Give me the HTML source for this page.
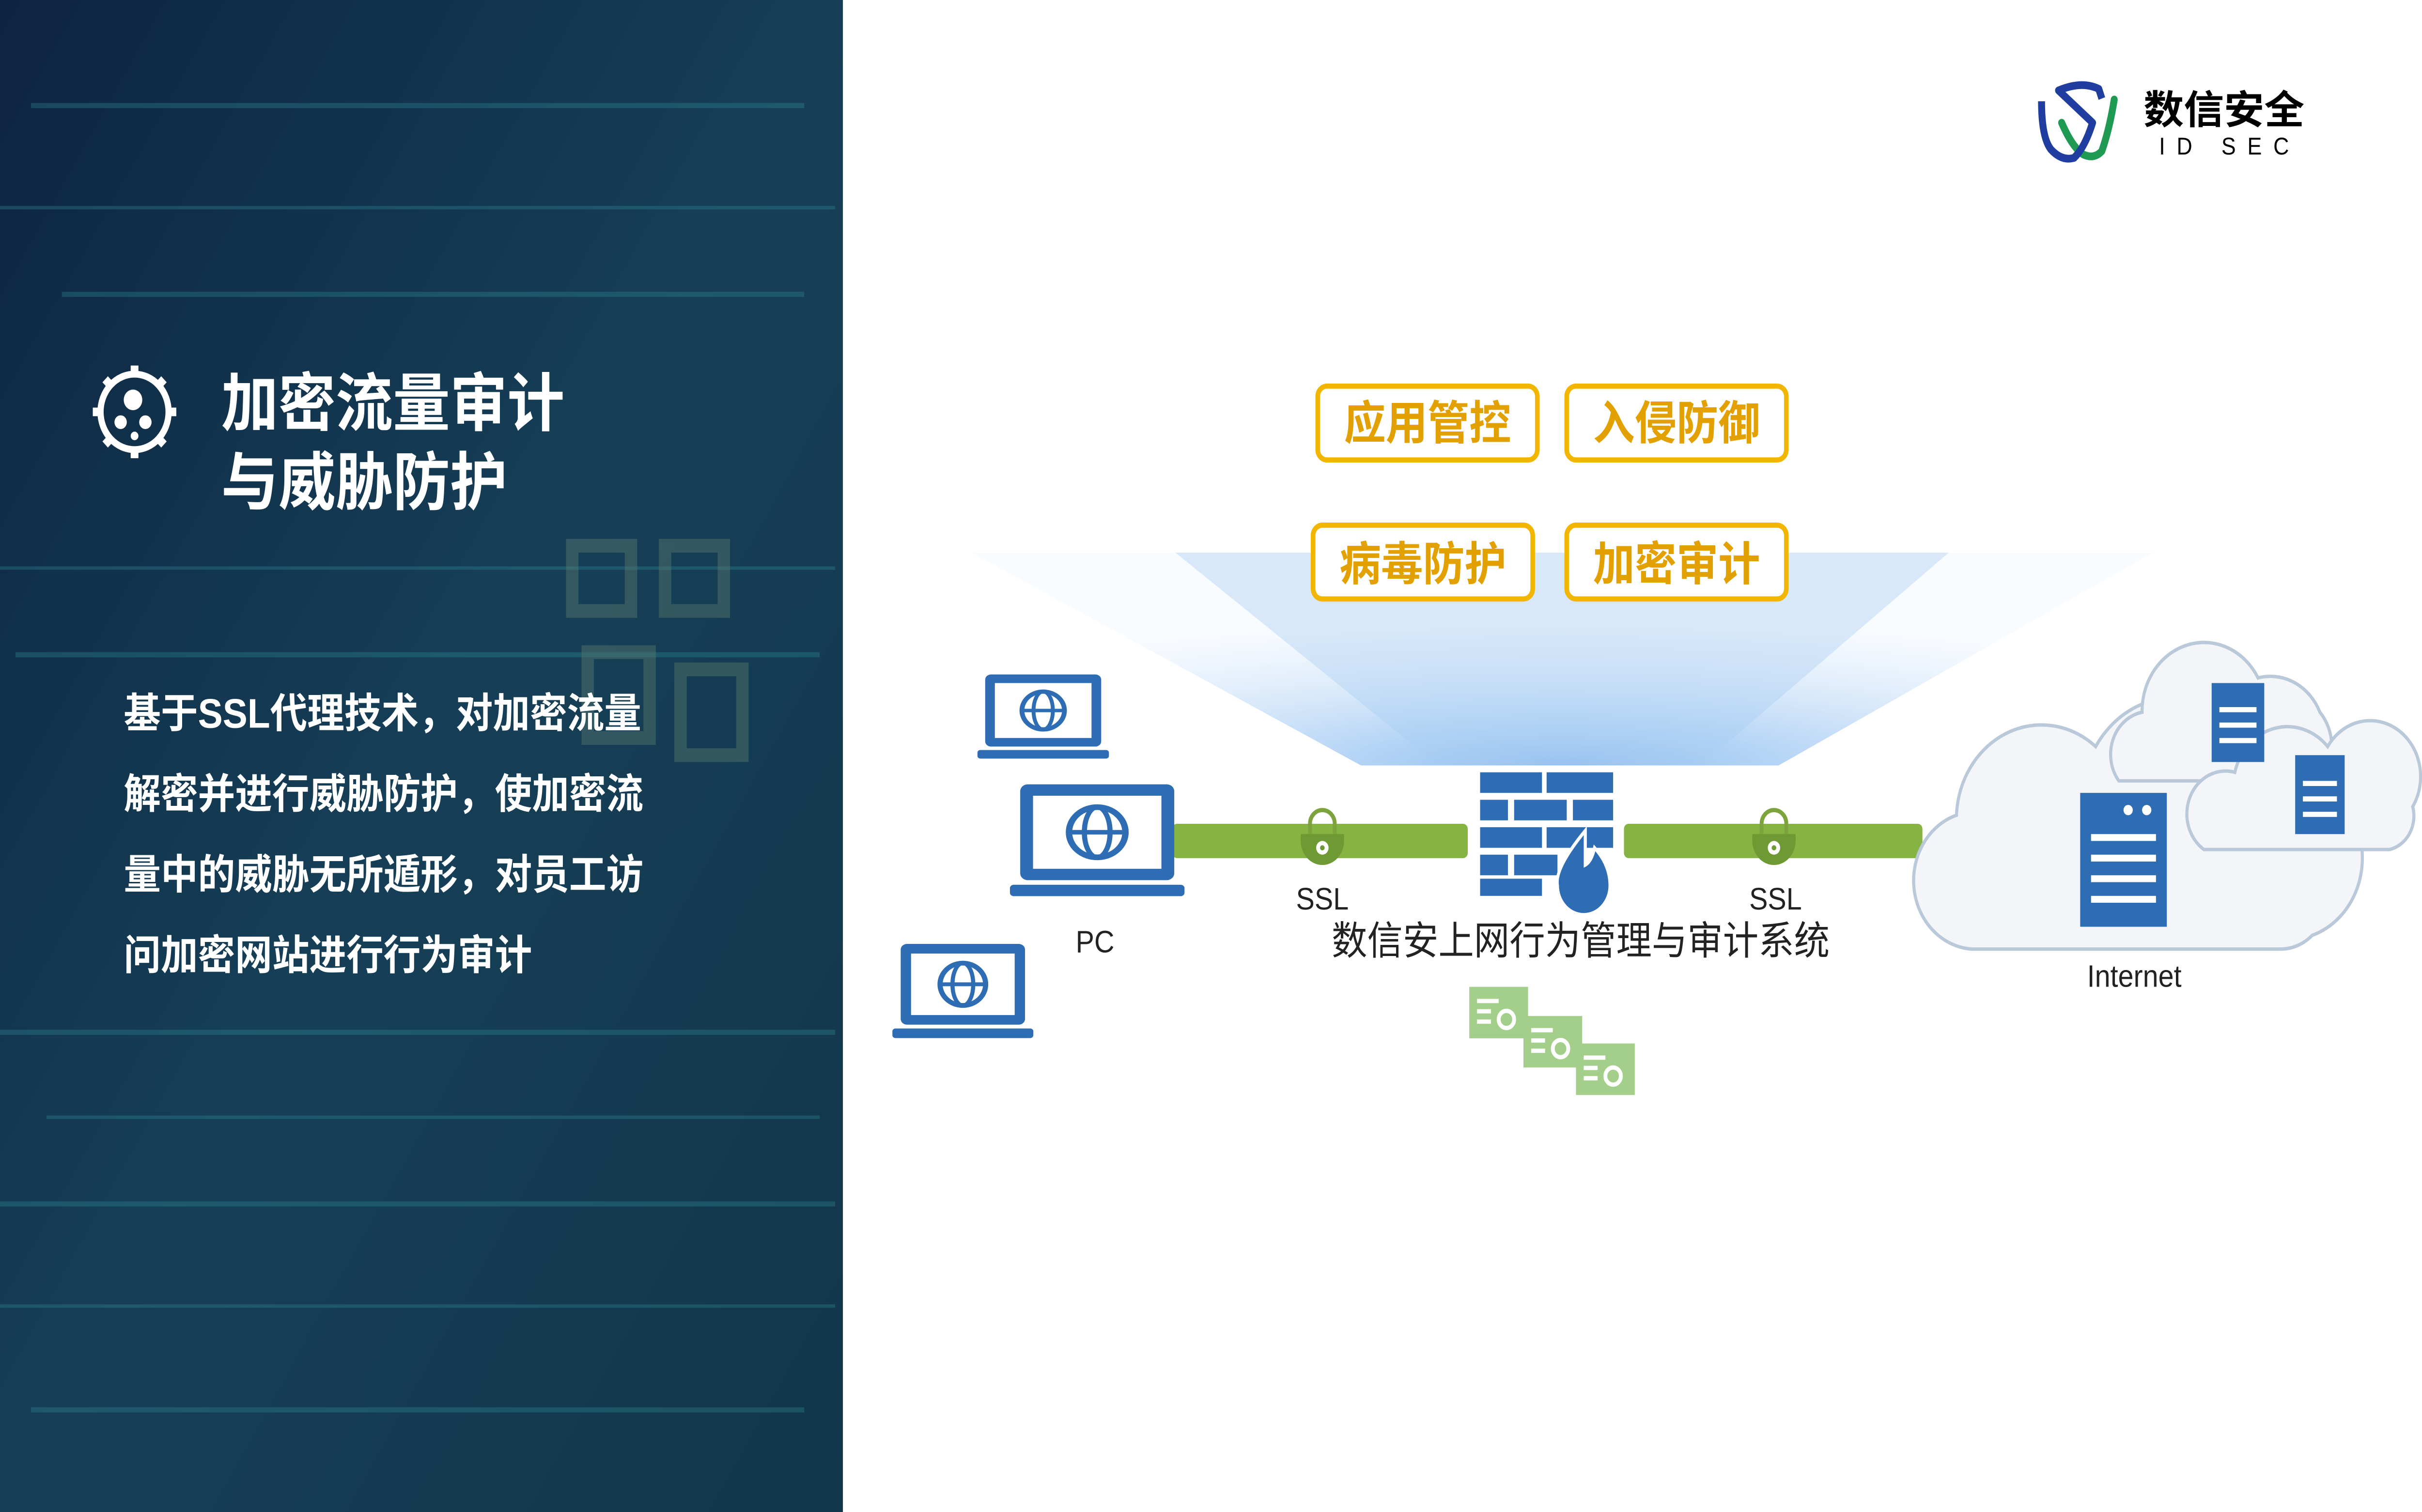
<!DOCTYPE html>
<html><head><meta charset="utf-8"><style>
html,body{margin:0;padding:0;width:100%;height:100%;overflow:hidden;background:#fff}
svg{display:block;width:100vw;height:100vh;position:absolute;left:0;top:0}
</style></head><body>
<svg viewBox="0 0 1566 881" preserveAspectRatio="none" xmlns="http://www.w3.org/2000/svg" font-family="'Liberation Sans','Noto Sans CJK SC',sans-serif">
<defs>
<linearGradient id="lp" x1="0" y1="0" x2="1" y2="1">
<stop offset="0" stop-color="#0d2440"/><stop offset="0.5" stop-color="#163f57"/><stop offset="1" stop-color="#12364a"/>
</linearGradient>
<radialGradient id="beam2" cx="0.5" cy="1" r="0.7">
<stop offset="0" stop-color="#8dbdf0"/><stop offset="1" stop-color="#eaf3fc" stop-opacity="0.3"/>
</radialGradient>
<g id="lap"><rect x="4" y="0" width="60" height="42" rx="3" fill="#2e6db4"/><rect x="9" y="5" width="50" height="32" fill="#fff"/><circle cx="34" cy="21" r="11" fill="none" stroke="#2e6db4" stroke-width="2.5"/><ellipse cx="34" cy="21" rx="5" ry="11" fill="none" stroke="#2e6db4" stroke-width="2"/><line x1="23" y1="21" x2="45" y2="21" stroke="#2e6db4" stroke-width="2"/><rect x="0" y="44" width="68" height="5" rx="1.5" fill="#2e6db4"/></g>
<g id="lock"><path d="M-8,-2 v-8 a8,8 0 0 1 16,0 v8" fill="none" stroke="#7da33c" stroke-width="2.5"/><path d="M-14,-4 h28 v4 a14,14 0 0 1 -28,0z" fill="#6e9a33"/><circle cx="0" cy="4" r="4" fill="#fff"/><circle cx="0" cy="4" r="1.5" fill="#6e9a33"/></g>
<g id="cert"><rect x="0" y="0" width="38" height="30" fill="#a3cf8a"/><rect x="5" y="7" width="14" height="2.5" fill="#fff"/><rect x="5" y="13" width="9" height="2.5" fill="#fff"/><rect x="5" y="19" width="9" height="2.5" fill="#fff"/><circle cx="24" cy="19" r="5" fill="none" stroke="#fff" stroke-width="2.5"/></g>
</defs>
<rect x="0" y="0" width="545" height="881" fill="url(#lp)"/>
<g fill="#2f8a94" opacity="0.35">
<rect x="20" y="60" width="500" height="3"/><rect x="0" y="120" width="540" height="2"/><rect x="40" y="170" width="480" height="3"/><rect x="0" y="330" width="540" height="2"/><rect x="10" y="380" width="520" height="3"/><rect x="0" y="600" width="540" height="3"/><rect x="30" y="650" width="500" height="2"/><rect x="0" y="700" width="540" height="3"/><rect x="0" y="760" width="540" height="2"/><rect x="20" y="820" width="500" height="3"/>
</g>
<g fill="none" stroke="#5a7a70" stroke-width="8" opacity="0.45"><rect x="370" y="318" width="38" height="38"/><rect x="430" y="318" width="38" height="38"/><rect x="380" y="380" width="40" height="50"/><rect x="440" y="390" width="40" height="50"/></g>
<g transform="translate(87,240)" fill="#fff">
<circle r="22" fill="none" stroke="#fff" stroke-width="4"/>
<g stroke="#fff" stroke-width="5"><line x1="0" y1="-27" x2="0" y2="-21"/><line x1="0" y1="27" x2="0" y2="21"/><line x1="-27" y1="0" x2="-21" y2="0"/><line x1="27" y1="0" x2="21" y2="0"/><line x1="-19" y1="-19" x2="-15" y2="-15"/><line x1="19" y1="19" x2="15" y2="15"/><line x1="-19" y1="19" x2="-15" y2="15"/><line x1="19" y1="-19" x2="15" y2="-15"/></g>
<circle cx="-1" cy="-7" r="6"/><circle cx="-9" cy="6" r="4"/><circle cx="7" cy="6" r="4"/><circle cx="0" cy="14" r="2.5"/>
</g>
<text x="143" y="248" font-size="37" font-weight="bold" fill="#fff">加密流量审计</text>
<text x="143" y="294" font-size="37" font-weight="bold" fill="#fff">与威胁防护</text>
<g font-size="24" font-weight="bold" fill="#fff">
<text x="80" y="424">基于SSL代理技术，对加密流量</text>
<text x="80" y="471">解密并进行威胁防护，使加密流</text>
<text x="80" y="518">量中的威胁无所遁形，对员工访</text>
<text x="80" y="565">问加密网站进行行为审计</text>
</g>
<path d="M1333,71.5 Q1340,86 1347,90 Q1354,93 1359,88 Q1364,75 1367,58" fill="none" stroke="#1e9a52" stroke-width="4.5" stroke-linecap="round"/>
<path d="M1320,59 Q1320,80 1326,87 Q1333,94 1341,92 Q1348,86 1353,71.5 L1331,52.7 Q1346,47 1357,51.8 L1359,57.4" fill="none" stroke="#1f3ea0" stroke-width="4.5" stroke-linejoin="round"/>
<text x="1386" y="72" font-size="23" font-weight="bold" fill="#000" textLength="104" lengthAdjust="spacingAndGlyphs">数信安全</text>
<text x="1396" y="90" font-size="14" fill="#000" textLength="84" lengthAdjust="spacing">ID SEC</text>
<polygon points="628,322 1392,322 1150,446 880,446" fill="url(#beam2)"/>
<polygon points="760,322 1260,322 1100,446 930,446" fill="#a8cdf3" opacity="0.4"/>
<g fill="#fff" stroke="#f2b600" stroke-width="3">
<rect x="852" y="225" width="142" height="43" rx="6"/><rect x="1013" y="225" width="142" height="43" rx="6"/>
<rect x="849" y="306" width="142" height="43" rx="6"/><rect x="1013" y="306" width="142" height="43" rx="6"/>
</g>
<g font-size="27" font-weight="bold" fill="#e2a100" text-anchor="middle">
<text x="923" y="256">应用管控</text><text x="1084" y="256">入侵防御</text>
<text x="920" y="338">病毒防护</text><text x="1084" y="338">加密审计</text>
</g>
<rect x="758" y="480" width="191" height="20" rx="3" fill="#86b443"/>
<rect x="1050" y="480" width="193" height="20" rx="3" fill="#86b443"/>
<use href="#lock" x="855" y="490"/><use href="#lock" x="1147" y="490"/>
<g font-size="18" fill="#222" text-anchor="middle"><text x="855" y="530">SSL</text><text x="1148" y="530">SSL</text></g>
<g fill="#2e6db4">
<rect x="957" y="450" width="40" height="12"/><rect x="1000" y="450" width="43" height="12"/>
<rect x="957" y="466" width="18" height="12"/><rect x="979" y="466" width="34" height="12"/><rect x="1017" y="466" width="26" height="12"/>
<rect x="957" y="482" width="40" height="12"/><rect x="1000" y="482" width="43" height="12"/>
<rect x="957" y="498" width="18" height="12"/><rect x="979" y="498" width="28" height="12"/>
<rect x="957" y="512" width="40" height="10"/>
<path d="M1025,484 q-20,22 -18,32 a17,17 0 0 0 34,0 q0,-12 -10,-22 q-2,8 -6,10z" stroke="#fff" stroke-width="2"/>
</g>
<text x="1022" y="556" font-size="23" fill="#222" text-anchor="middle">数信安上网行为管理与审计系统</text>
<use href="#cert" x="950" y="575"/><use href="#cert" x="985" y="592"/><use href="#cert" x="1019" y="608"/>
<use href="#lap" transform="translate(632,393) scale(1.25,1.0)"/>
<use href="#lap" transform="translate(653,457) scale(1.66,1.33)"/>
<use href="#lap" transform="translate(577,550) scale(1.34,1.12)"/>
<text x="708" y="555" font-size="18" fill="#222" text-anchor="middle">PC</text>
<g fill="#f3f5f8" stroke="#b9c9d9" stroke-width="2">
<path d="M1275,553 a40,40 0 0 1 -10,-78 a55,55 0 0 1 90,-40 a60,60 0 0 1 110,20 a45,45 0 0 1 30,90 a30,30 0 0 1 -20,8z"/>
<path d="M1370,455 a25,25 0 0 1 15,-40 a40,40 0 0 1 75,-20 a35,35 0 0 1 40,20 a30,30 0 0 1 0,40z"/>
<path d="M1425,495 a25,25 0 0 1 20,-45 a35,35 0 0 1 60,-15 a30,30 0 0 1 55,35 a20,20 0 0 1 -15,25z"/>
</g>
<g fill="#2e6db4">
<rect x="1345" y="462" width="56" height="78"/><rect x="1430" y="398" width="34" height="46"/><rect x="1484" y="440" width="32" height="46"/>
</g>
<g fill="#fff">
<circle cx="1376" cy="472" r="3"/><circle cx="1388" cy="472" r="3"/><rect x="1352" y="486" width="42" height="4"/><rect x="1352" y="498" width="42" height="4"/><rect x="1352" y="510" width="42" height="4"/><rect x="1352" y="522" width="42" height="4"/>
<rect x="1435" y="412" width="24" height="3"/><rect x="1435" y="421" width="24" height="3"/><rect x="1435" y="430" width="24" height="3"/>
<rect x="1489" y="455" width="22" height="3"/><rect x="1489" y="464" width="22" height="3"/><rect x="1489" y="473" width="22" height="3"/>
</g>
<text x="1380" y="575" font-size="18" fill="#222" text-anchor="middle">Internet</text>
</svg>
</body></html>
